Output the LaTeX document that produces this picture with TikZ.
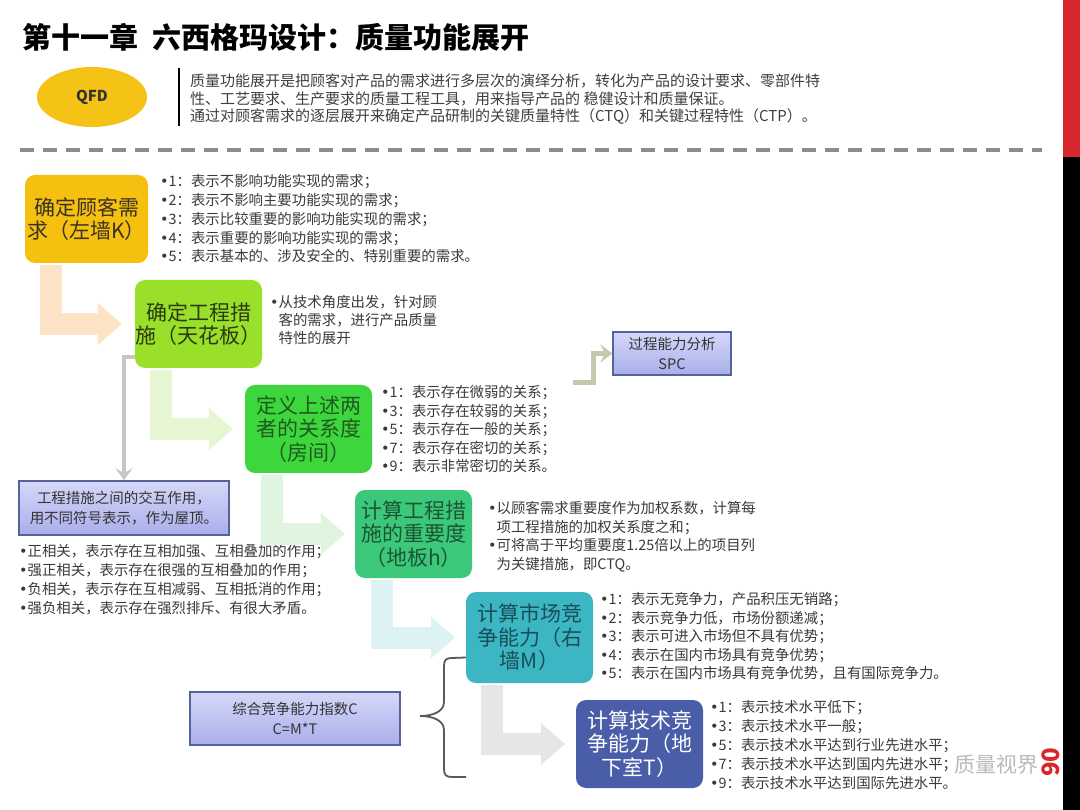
\documentclass[tikz,border=0pt]{standalone}
\usepackage{fontspec}
\setmainfont{Noto Sans CJK SC}
\newfontfamily\bulfont{DejaVu Sans}
\usetikzlibrary{shapes.geometric,arrows.meta,calc}
\definecolor{gold}{HTML}{F5C010}
\definecolor{qfdgold}{HTML}{F5C216}
\definecolor{lime}{HTML}{9ADF2A}
\definecolor{bgreen}{HTML}{3DD63D}
\definecolor{mgreen}{HTML}{3CC87A}
\definecolor{tealfive}{HTML}{3DB6C4}
\definecolor{navysix}{HTML}{4A5DA8}
\definecolor{lavtop}{HTML}{D5D8F8}
\definecolor{lavbot}{HTML}{A9AEEA}
\definecolor{lavborder}{HTML}{55639A}
\definecolor{peach}{HTML}{FCE3C5}
\definecolor{lgreenA}{HTML}{E6F5D2}
\definecolor{lgreenB}{HTML}{E0F5E0}
\definecolor{ltealc}{HTML}{DDF2F2}
\definecolor{lgrayc}{HTML}{E6E6E6}
\definecolor{conngray}{HTML}{C6C6C6}
\definecolor{spcconn}{HTML}{C4C8AC}
\definecolor{txt}{HTML}{3A3A3A}
\definecolor{redbar}{HTML}{D7262C}
\definecolor{tA}{HTML}{3A3222}
\definecolor{tB}{HTML}{2A3A12}
\definecolor{tC}{HTML}{1F5A1F}
\definecolor{tD}{HTML}{1B5535}
\definecolor{tE}{HTML}{184E58}
\newcommand\bu{{\bulfont •}}
\newcommand\bi{\phantom{\bu}}
\begin{document}
\begin{tikzpicture}[x=1pt,y=-1pt,
  box/.style={rounded corners=10pt, inner sep=0pt, align=center,
    font=\fontsize{21}{23.5}\selectfont, minimum height=88pt},
  bigarrow/.style={line width=22pt, -{Triangle[length=24pt,width=42pt,line width=0pt]}},
  grayconn/.style={draw=conngray, line width=3.5pt, -{Stealth[length=12pt,width=17pt,inset=5pt]}},
  lav/.style={draw=lavborder, line width=1.5pt, top color=lavtop, bottom color=lavbot,
    align=center, inner sep=0pt, font=\fontsize{14.5}{19.5}\selectfont, text=black!80},
  bultext/.style={anchor=north west, inner sep=0pt, align=left, text=txt},
  bracestyle/.style={draw=black!65, line width=1.8pt}
]
\useasboundingbox (0,0) rectangle (1080,810);
\fill[white] (0,0) rectangle (1080,810);
% right edge bar
\fill[redbar] (1063,0) rectangle (1080,157);
\fill[black] (1063,157) rectangle (1080,810);
% title
\node[anchor=west, inner sep=0pt, font=\fontsize{29}{32}\selectfont\bfseries] (title) at (22,37) {第十一章\hspace{0.5em}六西格玛设计：质量功能展开};
% QFD
\node[ellipse, fill=qfdgold, minimum width=110pt, minimum height=60pt, inner sep=0pt,
  font=\fontsize{15}{15}\selectfont\bfseries, text=black!80] (qfd) at (92,97) {QFD};
\draw[line width=2.5pt] (179,68) -- (179,126);
\node[anchor=north west, inner sep=0pt, align=left, text=black!75,
  font=\fontsize{15}{17.5}\selectfont] (desc) at (190,74)
  {质量功能展开是把顾客对产品的需求进行多层次的演绎分析，转化为产品的设计要求、零部件特\\
   性、工艺要求、生产要求的质量工程工具，用来指导产品的 稳健设计和质量保证。\\
   通过对顾客需求的逐层展开来确定产品研制的关键质量特性（CTQ）和关键过程特性（CTP）。};
% dashed separator
\draw[black!45, line width=3.5pt, dash pattern=on 14pt off 9pt] (20,150) -- (1042,150);

% boxes
\node[box, fill=gold, minimum width=123pt, text=tA] (k) at (86.5,219) {确定顾客需\\求（左墙K）};
\node[box, fill=lime, minimum width=127pt, text=tB] (eng) at (198.5,324) {确定工程措\\施（天花板）};
\node[box, fill=bgreen, minimum width=127pt, text=tC] (room) at (308.5,429) {定义上述两\\者的关系度\\（房间）};
\node[box, fill=mgreen, minimum width=117pt, text=tD] (floor) at (413.5,534) {计算工程措\\施的重要度\\（地板h）};
\node[box, fill=tealfive, minimum width=127pt, minimum height=91pt, text=tE] (mkt) at (529.5,637.5) {计算市场竞\\争能力（右\\墙M）};
\node[box, fill=navysix, minimum width=127pt, text=white] (tech) at (639.5,744) {计算技术竞\\争能力（地\\下室T）};

\node[lav, minimum width=118pt, minimum height=43pt] (spc) at (672,353.5) {过程能力分析\\SPC};
\node[lav, minimum width=210pt, minimum height=54pt] (inter) at (124,508) {工程措施之间的交互作用，\\用不同符号表示，作为屋顶。};
\node[lav, minimum width=210pt, minimum height=53pt] (comp) at (295,718.5) {综合竞争能力指数C\\C=M*T};

% bullet texts
\node[bultext, font=\fontsize{14.4}{18.75}\selectfont] (t1) at (160,174.5)
 {\bu1：表示不影响功能实现的需求；\\
  \bu2：表示不影响主要功能实现的需求；\\
  \bu3：表示比较重要的影响功能实现的需求；\\
  \bu4：表示重要的影响功能实现的需求；\\
  \bu5：表示基本的、涉及安全的、特别重要的需求。};
\node[bultext, font=\fontsize{14.4}{18}\selectfont] (t2) at (270,295.5)
 {\bu 从技术角度出发，针对顾\\
  \bi 客的需求，进行产品质量\\
  \bi 特性的展开};
\node[bultext, font=\fontsize{14.4}{18.5}\selectfont] (t3) at (381,385.5)
 {\bu1：表示存在微弱的关系；\\
  \bu3：表示存在较弱的关系；\\
  \bu5：表示存在一般的关系；\\
  \bu7：表示存在密切的关系；\\
  \bu9：表示非常密切的关系。};
\node[bultext, font=\fontsize{14.4}{19}\selectfont] (tint) at (19,544.5)
 {\bu 正相关，表示存在互相加强、互相叠加的作用；\\
  \bu 强正相关，表示存在很强的互相叠加的作用；\\
  \bu 负相关，表示存在互相减弱、互相抵消的作用；\\
  \bu 强负相关，表示存在强烈排斥、有很大矛盾。};
\node[bultext, font=\fontsize{14.4}{18.4}\selectfont] (t4) at (488,501.5)
 {\bu 以顾客需求重要度作为加权系数，计算每\\
  \bi 项工程措施的加权关系度之和；\\
  \bu 可将高于平均重要度1.25倍以上的项目列\\
  \bi 为关键措施，即CTQ。};
\node[bultext, font=\fontsize{14.4}{18.5}\selectfont] (t5) at (600,592.5)
 {\bu1：表示无竞争力，产品积压无销路；\\
  \bu2：表示竞争力低，市场份额递减；\\
  \bu3：表示可进入市场但不具有优势；\\
  \bu4：表示在国内市场具有竞争优势；\\
  \bu5：表示在国内市场具有竞争优势，且有国际竞争力。};
\node[bultext, font=\fontsize{14.4}{19}\selectfont] (t6) at (710,700.5)
 {\bu1：表示技术水平低下；\\
  \bu3：表示技术水平一般；\\
  \bu5：表示技术水平达到行业先进水平；\\
  \bu7：表示技术水平达到国内先进水平；\\
  \bu9：表示技术水平达到国际先进水平。};

% bent arrows
\draw[bigarrow, peach] ($(k.south west)+(26,2)$) |- ([xshift=-13pt]eng.west);
\draw[bigarrow, lgreenA] ($(eng.south west)+(26,2)$) |- ([xshift=-12pt]room.west);
\draw[bigarrow, lgreenB] ($(room.south west)+(27,2)$) |- ([xshift=-10pt]floor.west);
\draw[bigarrow, ltealc] ($(floor.south west)+(27,2)$) |- ([xshift=-11pt]mkt.west);
\draw[bigarrow, lgrayc] ($(mkt.south west)+(26,2)$) |- ([xshift=-11pt]tech.west);

% gray connector to interaction box
\draw[grayconn] ([yshift=11pt]eng.south west) -| (inter.north);
% connector to SPC
\coordinate (spcstart) at (573,383);
\draw[draw=spcconn, line width=5pt, -{Stealth[length=12pt,width=18pt,inset=5pt]}]
  (spcstart) -- (593,383) |- (spc.west);

% brace
\coordinate (braceend) at (466,777);
\draw[bracestyle] ([yshift=-20pt]mkt.west) -- (452,658) .. controls (446,658) and (444,660) .. (444,666)
  -- (444,702) .. controls (444,712) and (432,716) .. (420,716)
  .. controls (432,716) and (444,720) .. (444,730)
  -- (444,769) .. controls (444,775) and (446,777) .. (452,777) -- (braceend);

% watermark and page number
\node[anchor=west, inner sep=0pt, text=black!45, opacity=0.6,
  font=\fontsize{21}{23}\selectfont] (wm) at (954,765) {质量视界};
\node[rotate=90, inner sep=0pt, text=redbar, font=\fontsize{24}{24}\selectfont\bfseries] (page) at (1051,762) {90};
\end{tikzpicture}
\end{document}
